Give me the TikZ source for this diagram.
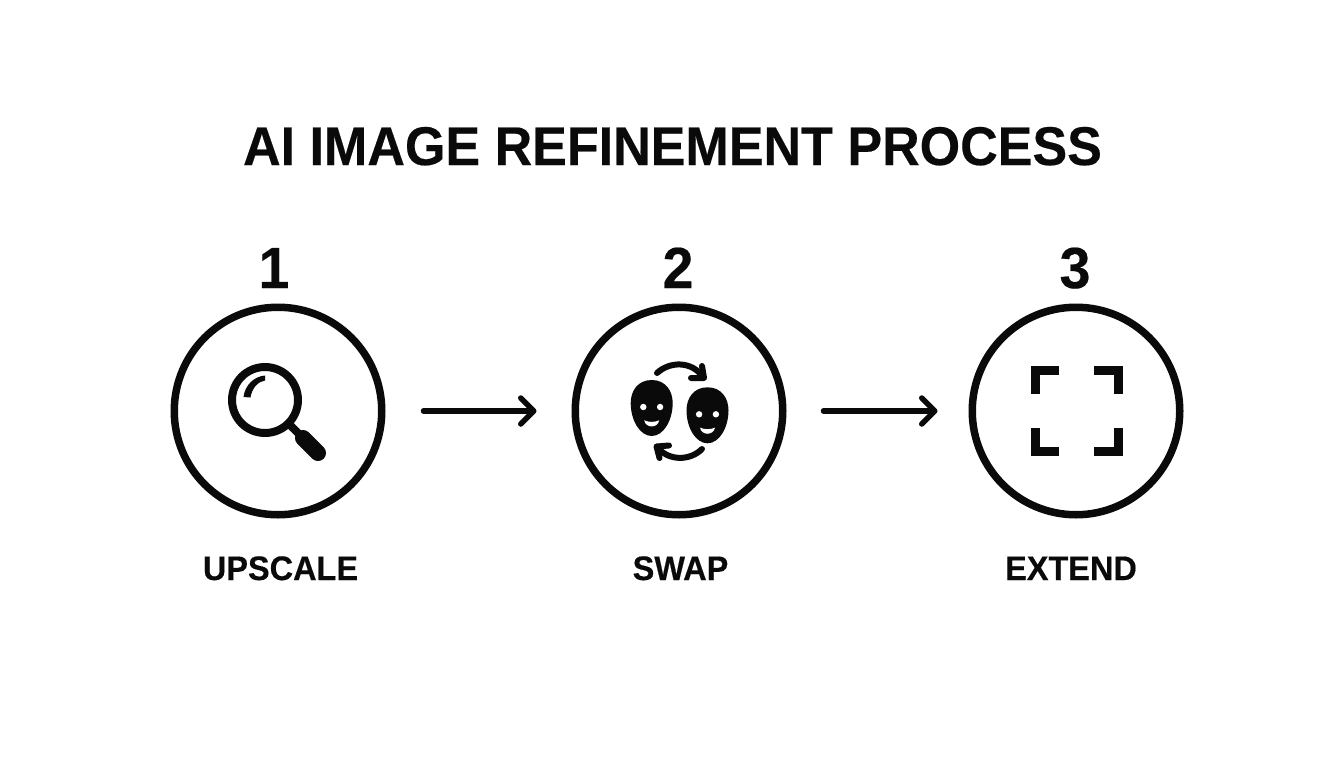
\documentclass[tikz,border=0pt]{standalone}
\usepackage{fontspec}
\setmainfont{Liberation Sans}
\newfontfamily\heavy[FakeStretch=0.955,FakeBold=0.35]{Liberation Sans Bold}
\usetikzlibrary{arrows.meta}
\definecolor{ink}{HTML}{0A0A0A}
\tikzset{
  stepcircle/.style={circle,draw=ink,line width=7.5pt,minimum size=207.5pt,inner sep=0pt},
  titletext/.style={anchor=base,inner sep=0pt,text=ink,font=\fontsize{54.5}{54}\heavy},
  numtext/.style={anchor=base,inner sep=0pt,text=ink,font=\fontsize{58}{58}\heavy},
  labeltext/.style={anchor=base,inner sep=0pt,text=ink,font=\fontsize{34}{34}\heavy},
  flow/.style={draw=ink,line width=5.5pt,line cap=round,-{Straight Barb[length=13pt,width=26pt,line join=round,line cap=round]}},
  glyph/.style={draw=ink,line cap=round},
  cornermark/.style={draw=ink,line width=9pt,line cap=butt,line join=miter},
  facepic/.pic={
    \fill[ink] (0,-28) .. controls (14,-28) and (21,-17) .. (21,-5)
      .. controls (21,12) and (12,28) .. (0,28)
      .. controls (-12,28) and (-21,12) .. (-21,-5)
      .. controls (-21,-17) and (-14,-28) .. (0,-28) -- cycle;
    \fill[white] (-8.4,-1) circle (3.2) (8.4,-1) circle (3.2);
    \fill[white] (-7.5,12.3) .. controls (-3,14.4) and (3,14.4) .. (7.5,12.3)
      .. controls (6,20.5) and (-6,20.5) .. (-7.5,12.3) -- cycle;
  }
}
\begin{document}
\begin{tikzpicture}[x=1pt,y=-1pt]
\useasboundingbox (0,0) rectangle (1344,768);
\fill[white] (0,0) rectangle (1344,768);
\node[titletext] (title) at (672.5,165) {AI IMAGE REFINEMENT PROCESS};
\node[stepcircle] (c1) at (278,411) {};
\node[stepcircle] (c2) at (679,411) {};
\node[stepcircle] (c3) at (1076,411) {};
\node[numtext] (n1) at (274,288) {1};
\node[numtext] (n2) at (678,288) {2};
\node[numtext] (n3) at (1075,288) {3};
\node[labeltext] (l1) at (280.5,580) {UPSCALE};
\node[labeltext] (l2) at (680.5,580) {SWAP};
\node[labeltext] (l3) at (1071,580) {EXTEND};
\draw[flow,shorten <=38pt,shorten >=35pt] (c1) -- (c2);
\draw[flow,shorten <=37pt,shorten >=31pt] (c2) -- (c3);
% magnifier
\draw[draw=ink,line width=8pt] (265,400) circle (33);
\draw[draw=ink,line width=8pt] (289,424) -- (301,436);
\draw[glyph,line width=16pt] (303,438) -- (318,453);
\fill[ink] (243.5,397) .. controls (245,385) and (254,376.5) .. (265,375.5)
  -- (265,380.5) .. controls (258,381.5) and (252,388) .. (250.5,397.5) -- cycle;
% faces
\pic at (651.7,408) {facepic};
\pic at (707.5,415.3) {facepic};
% rotation arrows
\draw[glyph,line width=6pt] (657,373) .. controls (670,361) and (692,361) .. (703,377);
\draw[glyph,line width=6pt,line join=round] (702,366) -- (704,378) -- (691,378);
\draw[glyph,line width=6pt] (702,449) .. controls (690,461) and (669,461) .. (658,448);
\draw[glyph,line width=6pt,line join=round] (659.5,458) -- (656.5,446.5) -- (669,445.5);
% corners
\draw[cornermark] (1059,370.2) -- (1035.2,370.2) -- (1035.2,394);
\draw[cornermark] (1094,370.2) -- (1118,370.2) -- (1118,394);
\draw[cornermark] (1035.2,428.3) -- (1035.2,451.2) -- (1059,451.2);
\draw[cornermark] (1118,428.3) -- (1118,451.2) -- (1094,451.2);
\end{tikzpicture}
\end{document}
